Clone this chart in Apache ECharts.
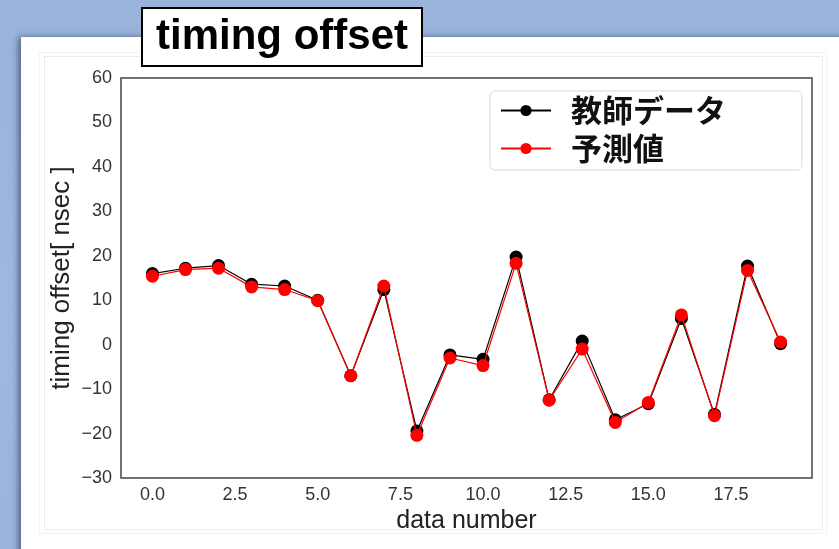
<!DOCTYPE html>
<html>
<head>
<meta charset="utf-8">
<script src="https://cdn.jsdelivr.net/npm/echarts@6/dist/echarts.min.js"></script>
<style>
  html, body { margin: 0; padding: 0; width: 839px; height: 549px; overflow: hidden; }
  body { background: linear-gradient(180deg, #9ab3db 0%, #9fb8e0 60%, #9bb4dc 100%); position: relative; }
  .card { position: absolute; left: 21px; top: 37px; width: 840px; height: 530px; background: #fff;
          box-shadow: -3px 0 6px rgba(30, 40, 70, 0.55); }
  .panel-outer { position: absolute; left: 39px; top: 52px; width: 786px; height: 480px; border: 1px solid #f4f4f4; }
  .panel { position: absolute; left: 44px; top: 56px; width: 777px; height: 472px; border: 1px solid #ececec; }
  #chart { position: absolute; left: 0; top: 0; width: 839px; height: 549px; }
</style>
</head>
<body>
<div class="card"></div>
<div class="panel-outer"></div>
<div class="panel"></div>
<div id="chart"></div>
<script>
// data number (x) and the two measured series
const dataNumber = [0, 1, 2, 3, 4, 5, 6, 7, 8, 9, 10, 11, 12, 13, 14, 15, 16, 17, 18, 19];
const teacher = [16.0, 17.2, 17.8, 13.6, 13.2, 10.0, -7.0, 12.4, -19.4, -2.3, -3.3, 19.7, -12.4, 0.8, -16.9, -13.3, 5.9, -15.7, 17.7, 0.2];
const predicted = [15.4, 16.9, 17.2, 13.0, 12.4, 9.9, -7.0, 13.2, -20.4, -3.0, -4.7, 18.3, -12.5, -1.0, -17.5, -13.0, 6.7, -16.0, 16.7, 0.6];
const xTicks = [0, 2.5, 5, 7.5, 10, 12.5, 15, 17.5];
const seriesNames = ['教師データ', '予測値'];

const pairs = vals => dataNumber.map((x, i) => [x, vals[i]]);
const font = 'Liberation Sans, Arial, Helvetica, sans-serif';

const chart = echarts.init(document.getElementById('chart'), null, { renderer: 'canvas' });
chart.setOption({
  backgroundColor: 'transparent',
  animation: false,
  title: {
    text: 'timing offset',
    left: 142, top: 8,
    padding: [8, 14, 8, 14],
    backgroundColor: '#fff',
    borderColor: '#000', borderWidth: 2,
    textStyle: { fontFamily: font, fontSize: 42, fontWeight: 'bold', color: '#000', lineHeight: 42 }
  },
  legend: {
    orient: 'vertical',
    left: 490, top: 91,
    padding: [4, 76, 6, 10],
    itemGap: 7,
    itemWidth: 50, itemHeight: 14,
    backgroundColor: '#fff',
    borderColor: '#d9d9d9', borderWidth: 1, borderRadius: 5,
    textStyle: { fontFamily: 'Noto Sans CJK JP', fontSize: 31, fontWeight: 'bold', color: '#111',
                 lineHeight: 30, padding: [0, 0, 0, 15] },
    data: seriesNames
  },
  grid: {
    left: 121, right: 27, top: 78, bottom: 71,
    show: true, borderColor: '#444', borderWidth: 1.5, backgroundColor: 'transparent'
  },
  xAxis: {
    type: 'value',
    min: -0.95, max: 19.95,
    name: 'data number', nameLocation: 'middle', nameGap: 28,
    nameTextStyle: { fontFamily: font, fontSize: 25, color: '#222' },
    axisLine: { show: false }, axisTick: { show: false }, splitLine: { show: false },
    axisLabel: { customValues: xTicks, formatter: v => v.toFixed(1), margin: 8,
                 fontFamily: font, fontSize: 18, color: '#333' }
  },
  yAxis: {
    type: 'value',
    min: -30, max: 60, interval: 10,
    name: 'timing offset[ nsec ]', nameLocation: 'middle', nameGap: 46,
    nameMoveOverlap: false,
    nameTextStyle: { fontFamily: font, fontSize: 26, color: '#222' },
    axisLine: { show: false }, axisTick: { show: false }, splitLine: { show: false },
    axisLabel: { margin: 9, fontFamily: font, fontSize: 18, color: '#333',
                 formatter: v => (v < 0 ? '\u2212' + Math.abs(v) : String(v)) }
  },
  series: [
    {
      name: seriesNames[0], type: 'line', data: pairs(teacher),
      symbol: 'circle', symbolSize: 13, clip: false,
      lineStyle: { color: '#000', width: 1.2 },
      itemStyle: { color: '#000' }, z: 2
    },
    {
      name: seriesNames[1], type: 'line', data: pairs(predicted),
      symbol: 'circle', symbolSize: 13, clip: false,
      lineStyle: { color: '#ff0000', width: 1.2 },
      itemStyle: { color: '#ff0000' }, z: 3
    }
  ]
});
</script>
</body>
</html>
